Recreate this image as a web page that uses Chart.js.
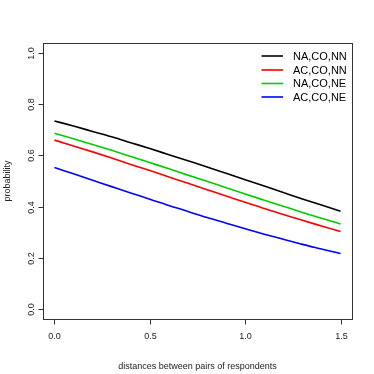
<!DOCTYPE html>
<html>
<head>
<meta charset="utf-8">
<script src="https://cdn.jsdelivr.net/npm/chart.js@4/dist/chart.umd.min.js"></script>
<style>
html,body{margin:0;padding:0;background:#fff;}
#wrap{width:374px;height:374px;position:relative;}
</style>
</head>
<body>
<div id="wrap"><canvas id="c" width="374" height="374"></canvas></div>
<script>
const distances = [0,0.1,0.2,0.3,0.4,0.5,0.6,0.7,0.8,0.9,1.0,1.1,1.2,1.3,1.4,1.5];
const naCoNn = [0.735,0.715,0.694,0.673,0.650,0.627,0.603,0.579,0.555,0.530,0.505,0.480,0.455,0.430,0.406,0.382];
const acCoNn = [0.660,0.637,0.614,0.590,0.565,0.541,0.516,0.491,0.466,0.441,0.417,0.392,0.369,0.346,0.324,0.302];
const naCoNe = [0.687,0.665,0.643,0.620,0.596,0.572,0.548,0.523,0.499,0.474,0.449,0.425,0.401,0.377,0.354,0.332];
const acCoNe = [0.553,0.528,0.503,0.478,0.453,0.429,0.404,0.381,0.357,0.335,0.313,0.292,0.272,0.252,0.234,0.216];
const seriesNames = ["NA,CO,NN","AC,CO,NN","NA,CO,NE","AC,CO,NE"];
const seriesColors = ["#000000","#ff0000","#00cd00","#0000ff"];
const xTicks = [0,0.5,1.0,1.5];
const xTickLabels = ["0.0","0.5","1.0","1.5"];
const yTicks = [0,0.2,0.4,0.6,0.8,1.0];
const yTickLabels = ["0.0","0.2","0.4","0.6","0.8","1.0"];
const xTitle = "distances between pairs of respondents";
const yTitle = "probability";

const allSeries = [naCoNn, acCoNn, naCoNe, acCoNe];
const datasets = allSeries.map((vals, i) => ({
  label: seriesNames[i],
  data: distances.map((d, j) => ({x: d, y: vals[j]})),
  borderColor: seriesColors[i],
  borderWidth: 1.6,
  pointRadius: 0,
  fill: false,
  tension: 0.4,
  cubicInterpolationMode: 'monotone'
}));

const FONT = '"Liberation Sans", Arial, Helvetica, sans-serif';

const rPlot = {
  id: 'rPlot',
  afterDraw(chart) {
    const ctx = chart.ctx;
    const a = chart.chartArea;
    const xs = chart.scales.x, ys = chart.scales.y;
    ctx.save();
    // box
    ctx.strokeStyle = '#333';
    ctx.lineWidth = 1;
    ctx.strokeRect(Math.round(a.left)+0.5, Math.round(a.top)+0.5,
                   Math.round(a.right-a.left), Math.round(a.bottom-a.top));
    // x ticks
    ctx.fillStyle = '#222';
    ctx.font = '9px ' + FONT;
    ctx.textAlign = 'center';
    ctx.textBaseline = 'middle';
    const bottom = Math.round(a.bottom)+0.5;
    xTicks.forEach((t, i) => {
      const px = Math.round(xs.getPixelForValue(t)) + 0.5;
      ctx.beginPath();
      ctx.moveTo(px, bottom);
      ctx.lineTo(px, bottom + 5);
      ctx.stroke();
      ctx.fillText(xTickLabels[i], px, 337);
    });
    // y ticks
    const left = Math.round(a.left)+0.5;
    yTicks.forEach((t, i) => {
      const py = Math.round(ys.getPixelForValue(t)) + 0.5;
      ctx.beginPath();
      ctx.moveTo(left, py);
      ctx.lineTo(left - 5, py);
      ctx.stroke();
      ctx.save();
      ctx.translate(31.5, py);
      ctx.rotate(-Math.PI/2);
      ctx.fillText(yTickLabels[i], 0, 0);
      ctx.restore();
    });
    // titles
    ctx.fillText(xTitle, (a.left + a.right)/2, 366.5);
    ctx.save();
    ctx.translate(7.5, (a.top + a.bottom)/2);
    ctx.rotate(-Math.PI/2);
    ctx.fillText(yTitle, 0, 0);
    ctx.restore();
    // legend
    ctx.font = '11px ' + FONT;
    ctx.textAlign = 'left';
    const rows = [56, 70, 83.5, 97];
    chart.data.datasets.forEach((ds, i) => {
      ctx.strokeStyle = ds.borderColor;
      ctx.lineWidth = 1.6;
      ctx.beginPath();
      ctx.moveTo(261.5, rows[i]);
      ctx.lineTo(283, rows[i]);
      ctx.stroke();
      ctx.fillStyle = '#000';
      ctx.fillText(ds.label, 293, rows[i] + 0.5);
    });
    ctx.restore();
  }
};

new Chart(document.getElementById('c'), {
  type: 'line',
  data: { datasets },
  options: {
    responsive: false,
    animation: false,
    devicePixelRatio: 1,
    layout: { padding: { left: 43, top: 43, right: 22, bottom: 55 } },
    plugins: { legend: { display: false }, tooltip: { enabled: false } },
    scales: {
      x: { type: 'linear', min: -0.06, max: 1.56, display: false },
      y: { type: 'linear', min: -0.04, max: 1.04, display: false }
    }
  },
  plugins: [rPlot]
});
</script>
</body>
</html>
